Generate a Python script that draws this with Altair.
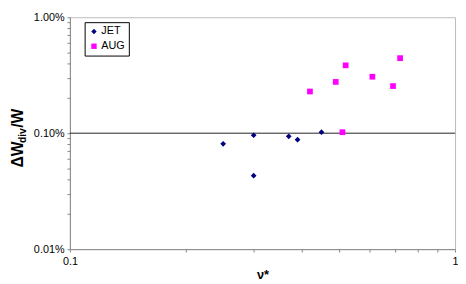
import altair as alt
import pandas as pd

jet_x = [0.25, 0.30, 0.30, 0.37, 0.39, 0.45]
jet_y = [0.081, 0.096, 0.043, 0.094, 0.088, 0.102]
aug_x = [0.42, 0.49, 0.52, 0.51, 0.61, 0.69, 0.72]
aug_y = [0.229, 0.277, 0.385, 0.102, 0.307, 0.255, 0.444]
series = ["JET", "AUG"]
colors = ["#000080", "#FF00FF"]
shapes = ["diamond", "square"]

x_ticks = [round(0.1 * i, 2) for i in range(1, 11)]
y_ticks = [round(0.01 * i, 3) for i in range(1, 10)] + [round(0.1 * i, 2) for i in range(1, 10)] + [1.0]

df = pd.DataFrame({
    "x": jet_x + aug_x,
    "y": jet_y + aug_y,
    "s": ["JET"] * len(jet_x) + ["AUG"] * len(aug_x),
})

FONT = "Liberation Sans"

xs = alt.Scale(type="log", domain=[0.1, 1], nice=False)
ys = alt.Scale(type="log", domain=[0.01, 1], nice=False)

points = alt.Chart(df).mark_point(filled=True, opacity=1, size=34).encode(
    x=alt.X("x:Q", scale=xs, axis=alt.Axis(
        values=x_ticks, title="ν*", titleFont=FONT, titleFontSize=13, titleFontWeight="bold",
        titlePadding=2,
        labelExpr="datum.value == 0.1 ? '0.1' : (datum.value == 1 ? '1' : '')",
        labelFont=FONT, labelFontSize=11, labelColor="#000", labelPadding=4,
        domainColor="#888", tickColor="#888", tickSize=3, grid=False, labelFlush=False)),
    y=alt.Y("y:Q", scale=ys, axis=alt.Axis(
        values=y_ticks, title=None,
        labelExpr="(datum.value == 0.01 || datum.value == 0.1 || datum.value == 1) ? format(datum.value, '.2f') + '%' : ''",
        labelFont=FONT, labelFontSize=11, labelColor="#000", labelPadding=3,
        domainColor="#888", tickColor="#888", tickSize=3, grid=False, labelFlush=False)),
    color=alt.Color("s:N", scale=alt.Scale(domain=series, range=colors), legend=alt.Legend(
        title=None, orient="none", legendX=15, legendY=5, strokeColor="#000", fillColor="white",
        padding=4, labelFont=FONT, labelFontSize=11, labelColor="#000", symbolSize=30,
        labelOffset=2, rowPadding=3, symbolStrokeWidth=0)),
    shape=alt.Shape("s:N", scale=alt.Scale(domain=series, range=shapes), legend=None),
)

rule = alt.Chart(pd.DataFrame({"v": [0.1]})).mark_rule(color="#222", strokeWidth=1).encode(
    y=alt.Y("v:Q", scale=ys)
)

t1 = alt.Chart(pd.DataFrame({"t": ["ΔW"]})).mark_text(
    angle=270, align="left", baseline="alphabetic", font=FONT, fontSize=16, fontWeight="bold", color="#000"
).encode(text="t:N", x=alt.value(-48), y=alt.value(153))
t2 = alt.Chart(pd.DataFrame({"t": ["div"]})).mark_text(
    angle=270, align="left", baseline="alphabetic", font=FONT, fontSize=10.5, fontWeight="bold", color="#000"
).encode(text="t:N", x=alt.value(-45), y=alt.value(128))
t3 = alt.Chart(pd.DataFrame({"t": ["/W"]})).mark_text(
    angle=270, align="left", baseline="alphabetic", font=FONT, fontSize=16, fontWeight="bold", color="#000"
).encode(text="t:N", x=alt.value(-48), y=alt.value(112.5))

chart = alt.layer(rule, points, t1, t2, t3).properties(
    width=392, height=236,
    autosize=alt.AutoSizeParams(type="none"),
    padding={"left": 63, "top": 7, "right": 3, "bottom": 30},
).configure_view(stroke="#bbb", strokeWidth=1)

chart.save("out.html", embed_options={"renderer": "svg", "actions": False})
